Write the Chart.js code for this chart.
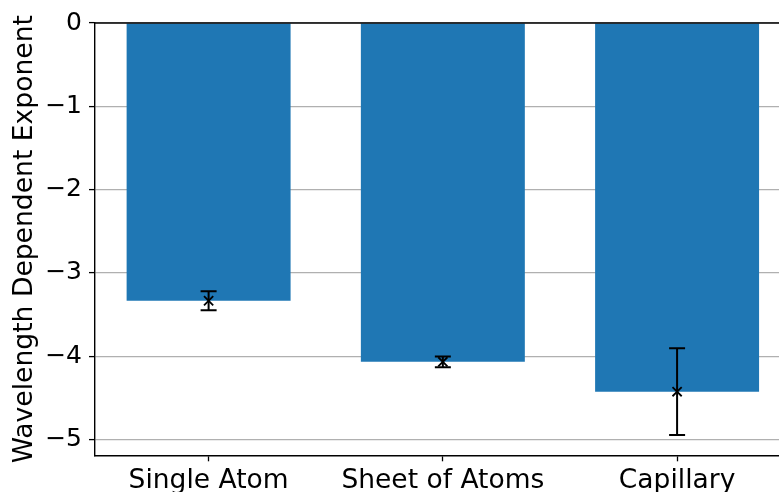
<!DOCTYPE html>
<html>
<head>
<meta charset="utf-8">
<script src="https://cdn.jsdelivr.net/npm/chart.js@4"></script>
<style>
html, body { margin: 0; padding: 0; background: #fff; overflow: hidden; }
#wrap { width: 779px; height: 492px; overflow: hidden; position: relative; }
canvas { display: block; }
</style>
</head>
<body>
<div id="wrap"><canvas id="c" width="799" height="492" style="width:799px;height:492px"></canvas></div>
<script>
// ---- data ----
const categories = ['Single Atom', 'Sheet of Atoms', 'Capillary'];
const exponentValues = [-3.335, -4.068, -4.426];
const exponentErrors = [0.115, 0.065, 0.52];
const yTickValues = [0, -1, -2, -3, -4, -5];
const yLabel = 'Wavelength Dependent Exponent';

const FONT = 'DejaVu Sans';
Chart.defaults.color = '#000';
Chart.defaults.font.family = FONT;

const barData = categories.map((c, i) => ({ x: i, y: exponentValues[i] }));
const markerData = categories.map((c, i) => ({ x: i, y: exponentValues[i] }));

const errorBarPlugin = {
  id: 'errorBars',
  afterDraw(chart) {
    const ctx = chart.ctx;
    const xs = chart.scales.x, ys = chart.scales.y;
    ctx.save();
    ctx.strokeStyle = '#000';
    ctx.lineWidth = 2;
    categories.forEach((c, i) => {
      const px = xs.getPixelForValue(i);
      const top = ys.getPixelForValue(exponentValues[i] + exponentErrors[i]);
      const bot = ys.getPixelForValue(exponentValues[i] - exponentErrors[i]);
      const cap = 8;
      ctx.beginPath();
      ctx.moveTo(px, top); ctx.lineTo(px, bot);
      ctx.moveTo(px - cap, top); ctx.lineTo(px + cap, top);
      ctx.moveTo(px - cap, bot); ctx.lineTo(px + cap, bot);
      ctx.stroke();
    });
    // top spine
    const a = chart.chartArea;
    ctx.lineWidth = 1.4;
    ctx.beginPath();
    ctx.moveTo(a.left, a.top);
    ctx.lineTo(a.right, a.top);
    ctx.stroke();
    ctx.restore();
  }
};

new Chart(document.getElementById('c'), {
  type: 'bar',
  data: {
    datasets: [
      {
        type: 'bar',
        data: barData,
        backgroundColor: '#1f77b4',
        borderWidth: 0,
        categoryPercentage: 1.0,
        barPercentage: 0.7,
        order: 2
      },
      {
        type: 'line',
        data: markerData,
        showLine: false,
        pointStyle: 'crossRot',
        pointRadius: 6.5,
        pointBorderColor: '#000',
        pointBorderWidth: 1.8,
        order: 1
      }
    ]
  },
  options: {
    responsive: false,
    animation: false,
    devicePixelRatio: 1,
    layout: { padding: { top: 23, right: 0, bottom: 0, left: 0 } },
    plugins: { legend: { display: false }, tooltip: { enabled: false } },
    scales: {
      x: {
        type: 'linear',
        offset: false,
        min: -0.485,
        max: 2.485,
        afterBuildTicks(scale) {
          scale.ticks = categories.map((c, i) => ({ value: i }));
        },
        afterFit(scale) { scale.height = 36.7; },
        ticks: {
          callback: (v) => categories[v] !== undefined ? categories[v] : '',
          font: { size: 26.5, family: FONT },
          padding: 4,
          maxRotation: 0,
          autoSkip: false
        },
        grid: {
          offset: false,
          drawOnChartArea: false,
          drawTicks: true,
          tickLength: 6,
          tickColor: '#000',
          tickWidth: 1.3
        },
        border: { color: '#000', width: 1.4 }
      },
      y: {
        min: -5.19,
        max: 0,
        z: 1,
        afterBuildTicks(scale) {
          scale.ticks = yTickValues.map(v => ({ value: v }));
        },
        afterFit(scale) { scale.width = 95; },
        ticks: {
          callback: (v) => v < 0 ? '\u2212' + Math.abs(v) : String(v),
          font: { size: 25, family: FONT },
          padding: 7
        },
        grid: {
          color: '#b0b0b0',
          lineWidth: 1.2,
          drawTicks: true,
          tickLength: 6,
          tickColor: '#000',
          tickWidth: 1.3
        },
        border: { color: '#000', width: 1.4 },
        title: {
          display: true,
          text: yLabel,
          font: { size: 26.6, family: FONT },
          padding: { top: 9, bottom: 0 }
        }
      }
    }
  },
  plugins: [errorBarPlugin]
});
</script>
</body>
</html>
